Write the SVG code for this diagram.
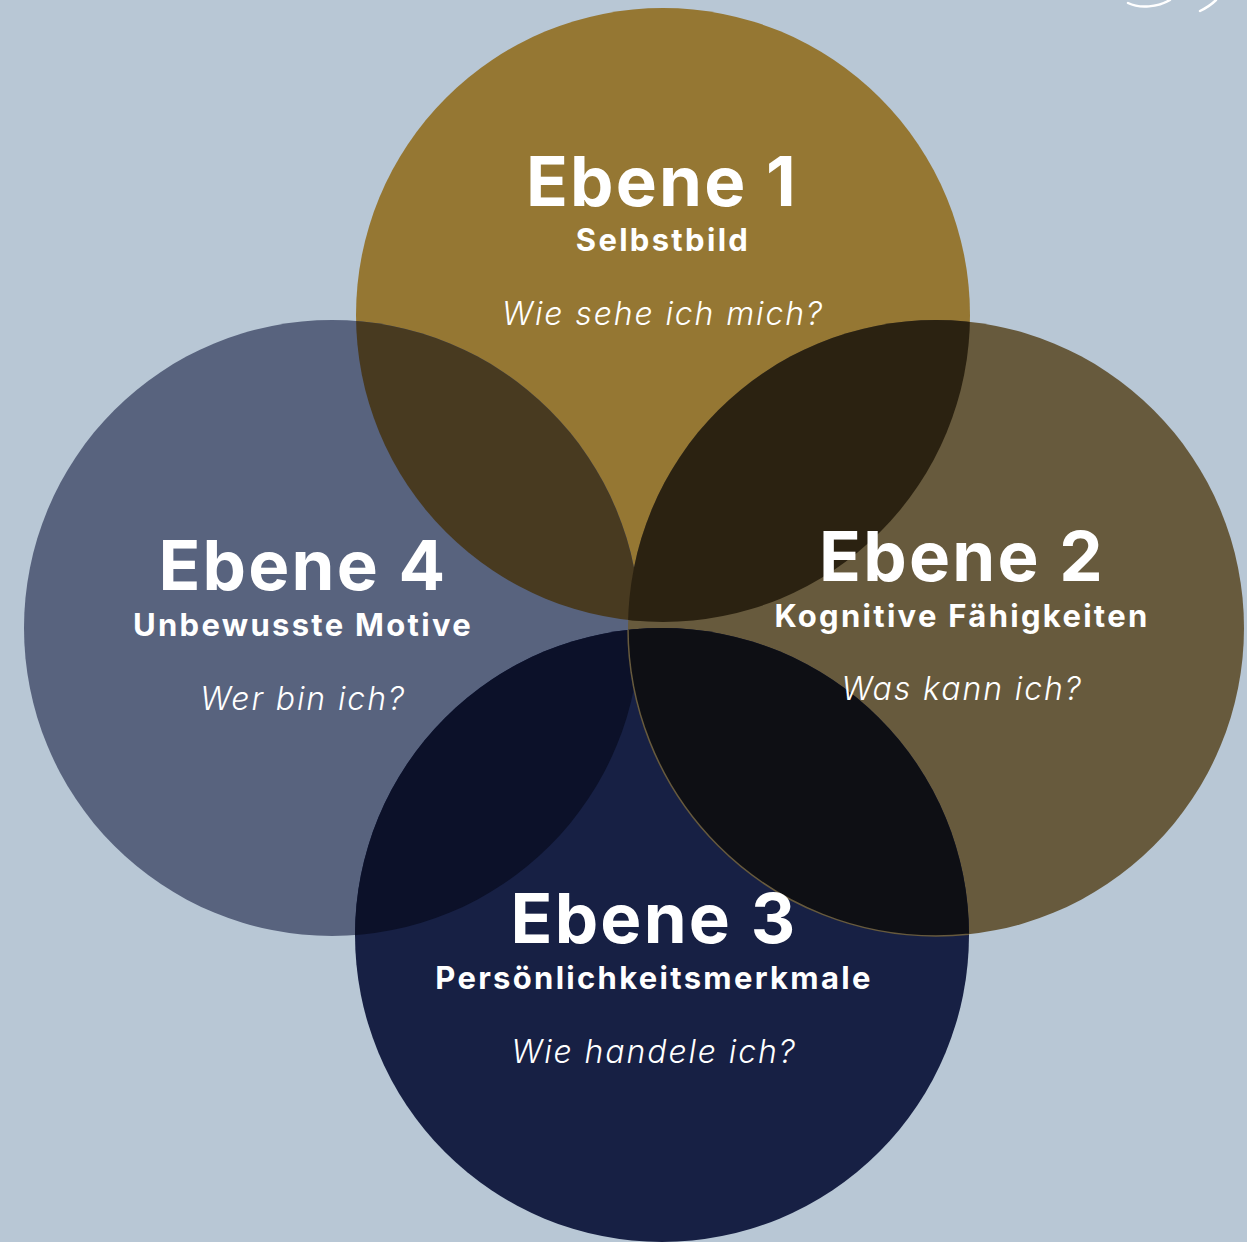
<svg xmlns="http://www.w3.org/2000/svg" width="1247" height="1242" viewBox="0 0 1247 1242">
<style>
.h{font-family:Inter,"Noto Sans",sans-serif;font-weight:700;fill:#fff;text-anchor:middle}
.t{font-size:69px;letter-spacing:2.2px}
.s{font-size:31px;letter-spacing:2.3px}
.q{font-family:Inter,"Noto Sans",sans-serif;font-style:italic;font-weight:300;font-size:32px;letter-spacing:1.9px;fill:#fff;text-anchor:middle}
</style>
<defs>
<clipPath id="cT"><circle cx="663" cy="315" r="307"/></clipPath>
<clipPath id="cB"><circle cx="662" cy="935" r="307"/></clipPath>
</defs>
<rect width="1247" height="1242" fill="#b8c7d5"/>
<path d="M1128 3 C1140 9 1158 7 1170 0 M1200 11 C1206 8 1212 4 1216 0" fill="none" stroke="#fff" stroke-width="2.5" stroke-linecap="round"/>
<g id="circles">
<circle id="n1" cx="663" cy="315" r="307" fill="#957733"/>
<circle id="n4" cx="332" cy="628" r="308" fill="#58637e"/>
<circle id="n2" cx="936" cy="628" r="308" fill="#675a3d"/>
<circle id="n3" cx="662" cy="935" r="307" fill="#172044"/>
<g clip-path="url(#cT)">
<circle cx="332" cy="628" r="308" fill="#483a20"/>
<circle cx="936" cy="628" r="308" fill="#2b2211"/>
</g>
<g clip-path="url(#cB)">
<circle cx="332" cy="628" r="308" fill="#0c1129"/>
<circle cx="936" cy="628" r="308" fill="#0e0f14" stroke="#675a3d" stroke-width="1.5"/>
</g>
</g>
<g id="labels">
<g id="l1"><text class="h t" x="662" y="206">Ebene 1</text><text class="h s" x="663" y="251">Selbstbild</text><text class="q" x="663" y="325">Wie sehe ich mich?</text></g>
<g id="l4"><text class="h t" x="303" y="590">Ebene 4</text><text class="h s" x="303" y="636">Unbewusste Motive</text><text class="q" x="303" y="710">Wer bin ich?</text></g>
<g id="l2"><text class="h t" x="962" y="581">Ebene 2</text><text class="h s" x="962" y="627">Kognitive Fähigkeiten</text><text class="q" x="962" y="700">Was kann ich?</text></g>
<g id="l3"><text class="h t" x="654" y="943">Ebene 3</text><text class="h s" x="654" y="989">Persönlichkeitsmerkmale</text><text class="q" x="654" y="1063">Wie handele ich?</text></g>
</g>
</svg>
